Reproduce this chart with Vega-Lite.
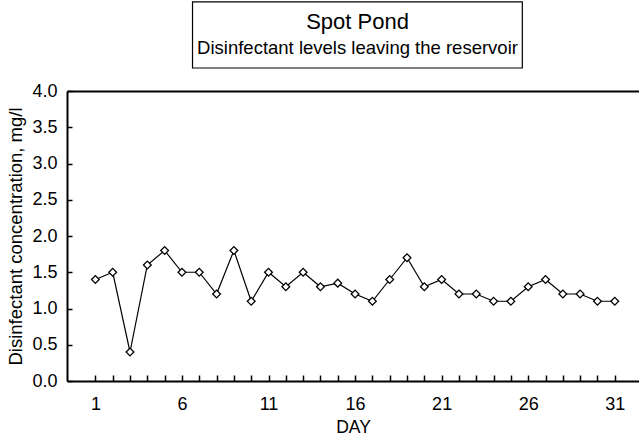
{
  "$schema": "https://vega.github.io/schema/vega-lite/v6.json",
  "width": 572,
  "height": 290,
  "padding": {"left": 6, "top": 1, "right": 0, "bottom": 3},
  "background": "white",
  "config": {"font": "Liberation Sans", "view": {"stroke": null}},
  "resolve": {"axis": {"x": "independent", "y": "independent"}},
  "layer": [
    {
      "data": {"values": [{}]},
      "mark": {"type": "rect", "fill": "white", "stroke": "black", "strokeWidth": 1.2},
      "encoding": {
        "x": {"datum": 6.61, "type": "quantitative", "axis": {"orient": "top", "labels": false, "ticks": false, "title": null, "grid": false, "domainColor": "black", "domainWidth": 2}},
        "x2": {"datum": 25.66},
        "y": {"datum": 5.228, "type": "quantitative", "axis": null},
        "y2": {"datum": 4.317}
      }
    },
    {
      "data": {"values": [{}]},
      "mark": {"type": "text", "fontSize": 22, "align": "center", "baseline": "alphabetic", "color": "black"},
      "encoding": {
        "x": {"datum": 16.14, "type": "quantitative", "axis": {
          "orient": "bottom", "offset": -6,
          "values": [1,2,3,4,5,6,7,8,9,10,11,12,13,14,15,16,17,18,19,20,21,22,23,24,25,26,27,28,29,30,31],
          "labels": false, "domain": false, "ticks": true, "tickSize": 6, "tickWidth": 1.5, "tickColor": "black",
          "title": null, "grid": false}},
        "y": {"datum": 4.851, "type": "quantitative", "axis": null},
        "text": {"value": "Spot Pond"}
      }
    },
    {
      "data": {"values": [{}]},
      "mark": {"type": "text", "fontSize": 18.5, "align": "center", "baseline": "alphabetic", "color": "black"},
      "encoding": {
        "x": {"datum": 16.14, "type": "quantitative", "axis": null},
        "y": {"datum": 4.51, "type": "quantitative", "axis": {
          "orient": "left", "offset": -5,
          "values": [0, 0.5, 1, 1.5, 2, 2.5, 3, 3.5, 4],
          "labels": false, "domain": false, "ticks": true, "tickSize": 5, "tickWidth": 1.5, "tickColor": "black",
          "title": null, "grid": false}},
        "text": {"value": "Disinfectant levels leaving the reservoir"}
      }
    },
    {
      "data": {"values": [
        {"day": 1, "level": 1.4}, {"day": 2, "level": 1.5}, {"day": 3, "level": 0.4}, {"day": 4, "level": 1.6},
        {"day": 5, "level": 1.8}, {"day": 6, "level": 1.5}, {"day": 7, "level": 1.5}, {"day": 8, "level": 1.2},
        {"day": 9, "level": 1.8}, {"day": 10, "level": 1.1}, {"day": 11, "level": 1.5}, {"day": 12, "level": 1.3},
        {"day": 13, "level": 1.5}, {"day": 14, "level": 1.3}, {"day": 15, "level": 1.35}, {"day": 16, "level": 1.2},
        {"day": 17, "level": 1.1}, {"day": 18, "level": 1.4}, {"day": 19, "level": 1.7}, {"day": 20, "level": 1.3},
        {"day": 21, "level": 1.4}, {"day": 22, "level": 1.2}, {"day": 23, "level": 1.2}, {"day": 24, "level": 1.1},
        {"day": 25, "level": 1.1}, {"day": 26, "level": 1.3}, {"day": 27, "level": 1.4}, {"day": 28, "level": 1.2},
        {"day": 29, "level": 1.2}, {"day": 30, "level": 1.1}, {"day": 31, "level": 1.1}
      ]},
      "encoding": {
        "x": {
          "field": "day", "type": "quantitative",
          "scale": {"domain": [-0.64, 32.4], "nice": false, "zero": false},
          "axis": {
            "orient": "bottom",
            "values": [1, 6, 11, 16, 21, 26, 31],
            "format": "d",
            "labelOverlap": false, "labelFlush": false,
            "ticks": false, "tickSize": 0,
            "domainColor": "black", "domainWidth": 2,
            "labelFontSize": 18, "labelColor": "black", "labelPadding": 14,
            "title": "DAY", "titleFontSize": 17.5, "titleFontWeight": "normal", "titleColor": "black", "titlePadding": 5,
            "grid": false
          }
        },
        "y": {
          "field": "level", "type": "quantitative",
          "scale": {"domain": [0, 4], "nice": false, "zero": false},
          "axis": {
            "orient": "left",
            "values": [0, 0.5, 1, 1.5, 2, 2.5, 3, 3.5, 4],
            "format": ".1f",
            "ticks": false, "tickSize": 0,
            "domainColor": "black", "domainWidth": 2,
            "labelFontSize": 18, "labelColor": "black", "labelPadding": 10,
            "title": "Disinfectant concentration, mg/l", "titleFontSize": 18.5, "titleFontWeight": "normal", "titleColor": "black", "titlePadding": 6,
            "grid": false
          }
        }
      },
      "layer": [
        {"mark": {"type": "line", "color": "black", "strokeWidth": 1.2}},
        {"mark": {"type": "point", "shape": "diamond", "size": 60, "filled": true, "fill": "white", "stroke": "black", "strokeWidth": 1.3, "opacity": 1}}
      ]
    }
  ]
}
